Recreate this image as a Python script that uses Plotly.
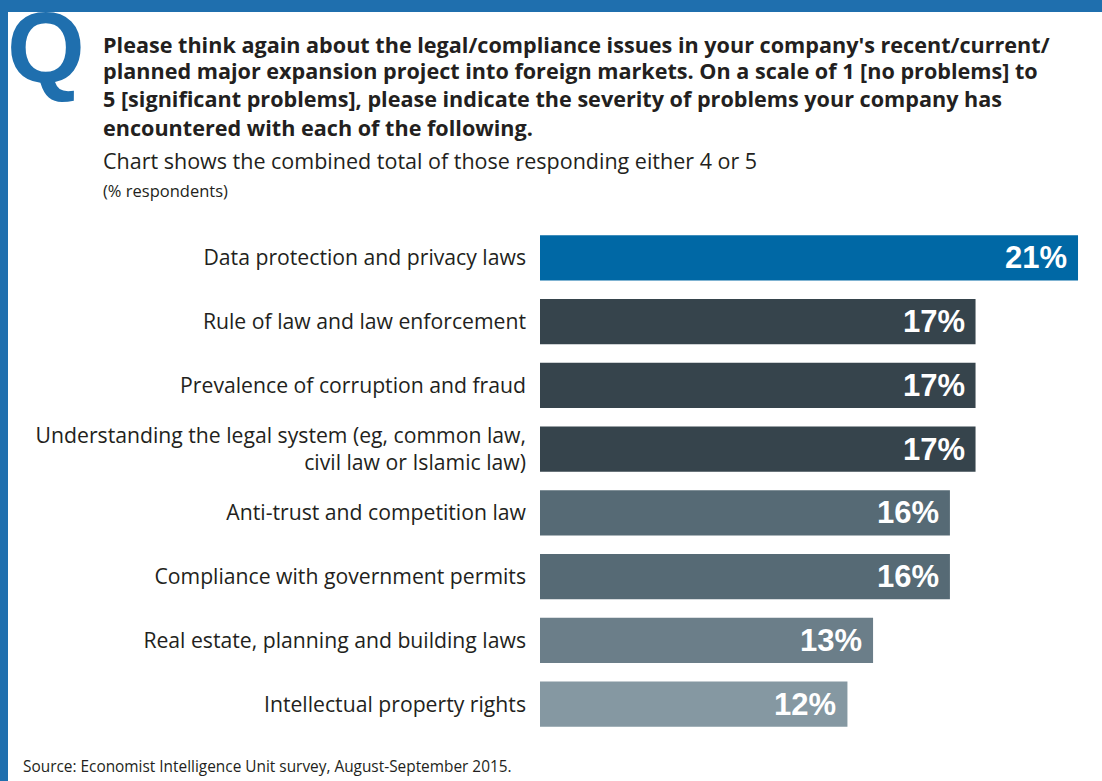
import plotly.graph_objects as go

# Survey results: share of respondents answering 4 or 5
categories = [
    "Data protection and privacy laws",
    "Rule of law and law enforcement",
    "Prevalence of corruption and fraud",
    "Understanding the legal system (eg, common law,<br>civil law or Islamic law)",
    "Anti-trust and competition law",
    "Compliance with government permits",
    "Real estate, planning and building laws",
    "Intellectual property rights",
]
values = [21, 17, 17, 17, 16, 16, 13, 12]
value_labels = ["21%", "17%", "17%", "17%", "16%", "16%", "13%", "12%"]
bar_colors = ["#0068a5", "#36444c", "#36444c", "#36444c",
              "#566a75", "#566a75", "#6b7e89", "#8598a2"]

title_lines = [
    "Please think again about the legal/compliance issues in your company's recent/current/",
    "planned major expansion project into foreign markets. On a scale of 1 [no problems] to",
    "5 [significant problems], please indicate the severity of problems your company has",
    "encountered with each of the following.",
]
subtitle = "Chart shows the combined total of those responding either 4 or 5"
unit_note = "(% respondents)"
source_note = "Source: Economist Intelligence Unit survey, August-September 2015."

W, H = 1102, 781
ML, MR, MT, MB = 540, 0, 226, 45
PW, PH = W - ML - MR, H - MT - MB
BLUE = "#1f6fae"
TEXT = "#231f20"
LABEL_FONT = "Open Sans"


def px(x):
    # pixel column -> paper fraction of the plotting area
    return (x - ML) / PW


def py(y):
    # pixel row -> paper fraction of the plotting area
    return (H - MB - y) / PH


fig = go.Figure()
fig.add_trace(go.Bar(
    y=categories,
    x=values,
    orientation="h",
    marker=dict(color=bar_colors, line=dict(width=0)),
    hoverinfo="skip",
))

annotations = []
# value labels inside the bar ends
for cat, v, lab in zip(categories, values, value_labels):
    annotations.append(dict(
        x=v, y=cat, xref="x", yref="y", text=lab, showarrow=False,
        xanchor="right", yanchor="middle", xshift=-9,
        font=dict(family="Liberation Sans, Arial", size=31, color="white", weight="bold"),
    ))

# question mark letter
annotations.append(dict(
    x=px(5), y=py(47), xref="paper", yref="paper", text="<b>Q</b>", showarrow=False,
    xanchor="left", yanchor="middle",
    font=dict(family="Liberation Sans, Arial", size=100, color=BLUE),
))

title_y = [45, 71, 98, 127]
for line, yy in zip(title_lines, title_y):
    annotations.append(dict(
        x=px(101), y=py(yy), xref="paper", yref="paper", text=f"<b>{line}</b>",
        showarrow=False, xanchor="left", yanchor="middle",
        font=dict(family=LABEL_FONT, size=21.6, color=TEXT),
    ))

annotations.append(dict(
    x=px(101), y=py(160), xref="paper", yref="paper", text=subtitle,
    showarrow=False, xanchor="left", yanchor="middle",
    font=dict(family=LABEL_FONT, size=21.5, color=TEXT),
))
annotations.append(dict(
    x=px(101), y=py(190), xref="paper", yref="paper", text=unit_note,
    showarrow=False, xanchor="left", yanchor="middle",
    font=dict(family=LABEL_FONT, size=16.5, color=TEXT),
))
annotations.append(dict(
    x=px(21), y=py(766), xref="paper", yref="paper", text=source_note,
    showarrow=False, xanchor="left", yanchor="middle",
    font=dict(family=LABEL_FONT, size=15.4, color=TEXT),
))

shapes = [
    # top banner
    dict(type="rect", xref="paper", yref="paper", x0=px(0), x1=px(W), y0=py(12), y1=py(0),
         fillcolor=BLUE, line=dict(width=0), layer="below"),
    # left frame edge
    dict(type="rect", xref="paper", yref="paper", x0=px(0), x1=px(8), y0=py(H), y1=py(0),
         fillcolor=BLUE, line=dict(width=0), layer="below"),
]

fig.update_layout(
    width=W, height=H,
    margin=dict(l=ML, r=MR, t=MT, b=MB),
    paper_bgcolor="white", plot_bgcolor="white",
    bargap=0.294,
    showlegend=False,
    xaxis=dict(range=[0, PW / 25.62], visible=False, fixedrange=True),
    yaxis=dict(
        categoryorder="array", categoryarray=categories, autorange="reversed",
        showgrid=False, zeroline=False, showline=False, ticks="",
        ticklabelstandoff=13,
        tickfont=dict(family=LABEL_FONT, size=21.2, color=TEXT),
        fixedrange=True,
    ),
    annotations=annotations,
    shapes=shapes,
)

fig.write_html("out.html")
